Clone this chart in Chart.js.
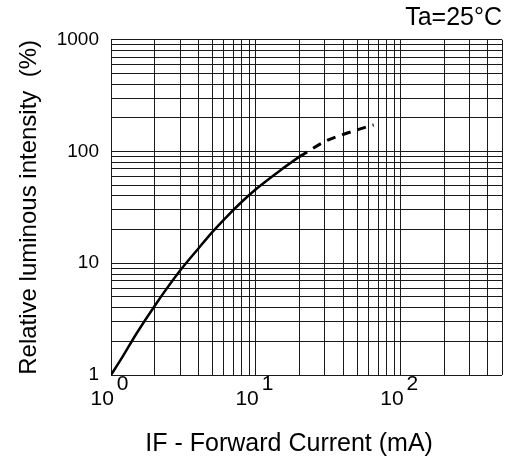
<!DOCTYPE html>
<html>
<head>
<meta charset="utf-8">
<script src="https://cdn.jsdelivr.net/npm/chart.js@4.4.1/dist/chart.umd.min.js"></script>
<style>
  html, body { margin: 0; padding: 0; background: #fff; }
  #wrap { width: 505px; height: 459px; }
</style>
</head>
<body>
<div id="wrap"><canvas id="ivchart"></canvas></div>
<script>
// forward current (mA) vs relative luminous intensity (%)
var solidX = [1, 1.2, 1.5, 2, 3, 4, 5, 6, 8, 10, 15, 20];
var solidY = [1, 1.45, 2.35, 4.15, 8.6, 13.5, 19, 24.5, 35.5, 46, 69, 90];
var dashX = [20, 30, 40, 50, 60, 65];
var dashY = [90, 123, 142, 156, 168, 173];

// grid lines
var xGrid = [1, 2, 3, 4, 5, 6, 7, 8, 9, 10, 20, 30, 40, 50, 60, 70, 80, 90, 100, 200, 300, 400, 500];
var yGrid = [1, 2, 3, 4, 5, 6, 7, 8, 9, 10, 20, 30, 40, 50, 60, 70, 80, 90, 100, 200, 300, 400, 500, 600, 700, 800, 900, 1000];
var xTickLabels = { 1: ['    0', '10   '], 10: ['    1', '10   '], 100: ['    2', '10   '] };
var yTickLabels = { 1: '1', 10: '10', 100: '100', 1000: '1000' };

function toPoints(xs, ys) {
  return xs.map(function (x, i) { return { x: x, y: ys[i] }; });
}

var ctx = document.getElementById("ivchart");
var chart = new Chart(ctx, {
  type: 'line',
  data: {
    datasets: [{
      data: toPoints(solidX, solidY),
      borderColor: '#000',
      borderWidth: 2.5,
      pointRadius: 0,
      cubicInterpolationMode: 'monotone'
    }, {
      data: toPoints(dashX, dashY),
      borderColor: '#000',
      borderWidth: 3,
      borderDash: [9, 7],
      pointRadius: 0,
      cubicInterpolationMode: 'monotone'
    }]
  },
  options: {
    responsive: true,
    maintainAspectRatio: false,
    animation: false,
    layout: { padding: { top: 0, right: 3, bottom: 0, left: 0 } },
    plugins: {
      legend: { display: false },
      tooltip: { enabled: false },
      title: {
        display: true,
        text: 'Ta=25°C',
        align: 'end',
        color: '#000',
        font: { family: 'Liberation Sans, Arial, sans-serif', size: 25, weight: 'normal', lineHeight: 1.15 },
        padding: { top: 4, bottom: 7 }
      }
    },
    scales: {
      x: {
        type: 'logarithmic',
        min: 1,
        max: 500,
        afterBuildTicks: function (scale) {
          scale.ticks = xGrid.map(function (v) { return { value: v }; });
        },
        afterFit: function (scale) { scale.height = 84; },
        border: { display: false },
        grid: { color: '#1a1a1a', lineWidth: 1, drawTicks: false },
        ticks: {
          autoSkip: false,
          maxRotation: 0,
          padding: 2,
          color: '#000',
          font: { family: 'Liberation Sans, Arial, sans-serif', size: 21, lineHeight: '15px' },
          callback: function (value) { return xTickLabels[value] || ''; }
        },
        title: {
          display: true,
          text: 'IF - Forward Current (mA)     ',
          color: '#000',
          font: { family: 'Liberation Sans, Arial, sans-serif', size: 25 },
          padding: { top: 0, bottom: 0 }
        }
      },
      y: {
        type: 'logarithmic',
        min: 1,
        max: 1000,
        afterBuildTicks: function (scale) {
          scale.ticks = yGrid.map(function (v) { return { value: v }; });
        },
        afterFit: function (scale) { scale.width = 111; },
        border: { display: false },
        grid: { color: '#1a1a1a', lineWidth: 1, drawTicks: false },
        ticks: {
          autoSkip: false,
          padding: 12,
          color: '#000',
          font: { family: 'Liberation Sans, Arial, sans-serif', size: 19 },
          callback: function (value) { return yTickLabels[value] || ''; }
        },
        title: {
          display: true,
          text: 'Relative luminous intensity  (%)',
          color: '#000',
          font: { family: 'Liberation Sans, Arial, sans-serif', size: 24 },
          padding: { top: 15, bottom: 0 }
        }
      }
    }
  }
});
</script>
</body>
</html>
